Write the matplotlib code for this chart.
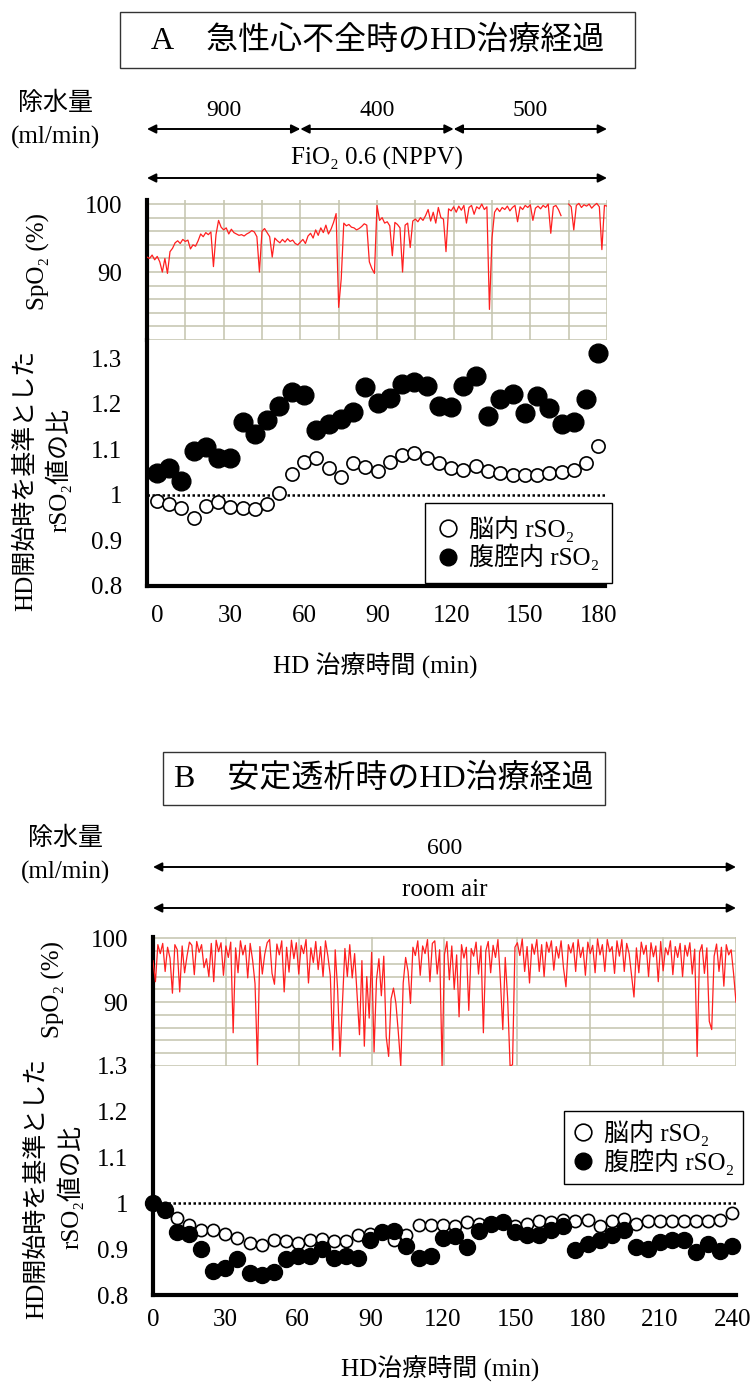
import matplotlib
matplotlib.use("Agg")
import matplotlib.pyplot as plt
import matplotlib.transforms as mtransforms
from matplotlib.lines import Line2D
from matplotlib.patches import Rectangle

plt.rcParams['font.family'] = ['Liberation Serif', 'Noto Sans CJK JP', 'DejaVu Serif']

W, H = 755, 1387

# ---- panel A : acute heart failure ----
t_a = list(range(0, 185, 5))
brain_a = [0.987, 0.981, 0.971, 0.949, 0.976, 0.984, 0.974, 0.971, 0.969, 0.980,
           1.004, 1.045, 1.073, 1.081, 1.058, 1.040, 1.070, 1.061, 1.052, 1.073,
           1.088, 1.091, 1.080, 1.070, 1.060, 1.055, 1.064, 1.052, 1.047, 1.043,
           1.043, 1.043, 1.049, 1.050, 1.054, 1.071, 1.107]
abd_a = [1.049, 1.058, 1.030, 1.097, 1.105, 1.080, 1.080, 1.161, 1.133, 1.165,
         1.195, 1.225, 1.220, 1.142, 1.156, 1.166, 1.182, 1.236, 1.201, 1.213,
         1.243, 1.247, 1.238, 1.195, 1.193, 1.240, 1.262, 1.174, 1.211, 1.221,
         1.180, 1.217, 1.191, 1.155, 1.160, 1.211, 1.312]
nan = float('nan')
spo2_a = [92.2, 92.0, 92.5, 91.8, 92.3, 91.5, 90.0, 92.0, 89.8, 93.0,
          93.5, 94.3, 94.6, 94.2, 94.8, 94.5, 94.7, 93.4, 94.0, 93.8,
          94.6, 95.6, 95.2, 95.8, 95.5, 95.9, 90.8, 95.5, 97.6, 96.6,
          96.2, 96.5, 95.6, 96.3, 95.8, 95.6, 95.4, 95.5, 95.3, 95.6,
          95.8, 96.1, 95.9, 95.2, 90.0, 96.0, 96.4, 95.8, 95.2, 92.2,
          95.0, 94.6, 94.3, 94.8, 94.4, 94.9, 94.5, 94.7, 94.2, 94.0,
          94.4, 94.8, 94.2, 95.3, 95.7, 95.0, 96.2, 95.4, 96.5, 95.8,
          96.9, 95.6, 96.3, 97.3, 98.6, 84.8, 89.0, 97.2, 96.8, 97.0,
          96.6, 96.5, 96.2, 96.4, 96.7, 97.1, 96.9, 91.5, 90.5, 89.8,
          99.8, 97.6, 98.0, 97.2, 97.4, 96.8, 92.4, 97.3, 97.0, 96.5,
          90.0, 96.9, 97.2, 93.6, 97.5, 97.8, 97.4, 98.0, 97.6, 98.3,
          99.2, 97.5, 98.8, 97.2, 99.5, 98.0, 97.8, 93.0, 99.3, 99.0,
          99.6, 98.8, 99.7, 99.1, 99.8, 97.2, 99.5, 99.8, 98.5, 99.6,
          99.3, 100.0, 99.2, 99.6, 84.5, 95.0, 98.8, 99.4, 98.9, 99.5,
          99.2, 99.7, 99.0, 99.5, 99.8, 97.4, 99.6, 99.2, 99.8, 99.5,
          99.9, 97.6, 99.4, 99.7, 99.3, 99.8, 99.5, 100.0, 95.7, 99.6,
          99.8, 99.2, 98.3, nan, nan, 100.0, 99.6, 96.2, 99.8, 100.1,
          99.5, 99.9, 99.7, 100.0, 99.4, 99.8, 100.1, 99.6, 93.3, 99.8,
          99.7]
min_a = list(range(len(spo2_a)))
rate_bounds_a = [0, 60, 120, 180]
rate_labels_a = ['900', '400', '500']

# ---- panel B : stable dialysis ----
t_b = list(range(0, 245, 5))
brain_b = [1.000, 0.990, 0.969, 0.952, 0.943, 0.942, 0.934, 0.924, 0.914, 0.910,
           0.919, 0.917, 0.914, 0.919, 0.923, 0.918, 0.918, 0.930, 0.934, 0.938,
           0.921, 0.930, 0.952, 0.952, 0.953, 0.950, 0.960, 0.955, 0.957, 0.959,
           0.951, 0.954, 0.961, 0.959, 0.964, 0.961, 0.964, 0.951, 0.961, 0.967,
           0.955, 0.962, 0.961, 0.961, 0.961, 0.961, 0.962, 0.964, 0.978]
abd_b = [1.000, 0.985, 0.937, 0.934, 0.900, 0.853, 0.860, 0.878, 0.849, 0.843,
         0.851, 0.878, 0.885, 0.885, 0.900, 0.881, 0.885, 0.880, 0.921, 0.937,
         0.939, 0.907, 0.880, 0.886, 0.925, 0.929, 0.904, 0.940, 0.955, 0.959,
         0.937, 0.931, 0.931, 0.943, 0.951, 0.899, 0.911, 0.921, 0.932, 0.943,
         0.904, 0.900, 0.916, 0.921, 0.921, 0.893, 0.911, 0.896, 0.906]
spo2_b = [96.5, 93.2, 99.0, 97.6, 99.2, 94.8, 98.6, 96.9, 91.4, 99.0,
          98.2, 91.6, 98.8, 94.6, 97.2, 99.4, 98.9, 94.3, 99.5, 97.8,
          99.0, 95.4, 96.8, 94.0, 99.2, 93.2, 99.7, 97.9, 99.3, 94.2,
          98.8, 97.0, 99.4, 85.2, 98.5, 94.6, 99.6, 97.4, 98.9, 93.8,
          99.2, 96.6, 92.9, 80.2, 98.7, 94.4, 97.5, 99.3, 99.8, 94.5,
          92.8, 99.1, 97.4, 99.6, 91.6, 98.6, 94.7, 99.7, 96.8, 99.3,
          94.4, 98.9, 97.6, 99.8, 93.0, 98.5, 96.2, 99.5, 95.1, 98.7,
          94.0, 99.6, 97.2, 94.1, 82.5, 98.2, 92.0, 81.5, 90.0, 98.4,
          94.0, 99.0, 93.8, 97.6, 91.2, 84.9, 96.5, 83.1, 94.0, 87.5,
          97.8, 82.2, 93.5, 96.8, 91.0, 97.2, 84.6, 81.5, 90.5, 92.2,
          89.8, 85.2, 80.0, 93.0, 97.0, 94.8, 89.8, 98.6, 97.3, 99.6,
          94.2, 98.8, 97.6, 99.8, 93.2, 99.2, 99.6, 94.4, 98.2, 80.0,
          97.5, 99.5, 93.5, 98.8, 92.0, 97.4, 87.7, 99.0, 96.9, 98.6,
          88.7, 98.4, 97.2, 99.4, 94.4, 98.8, 85.2, 98.0, 99.5, 94.6,
          98.9, 97.0, 99.8, 93.5, 85.7, 97.0, 90.5, 80.0, 80.2, 98.6,
          99.3, 97.3, 99.9, 94.8, 98.7, 93.0, 99.1, 97.5, 99.8, 94.8,
          99.0, 94.0, 99.4, 97.8, 99.6, 95.0, 98.7, 96.9, 99.6, 95.3,
          92.4, 99.0, 97.7, 99.3, 94.8, 99.8, 97.0, 98.6, 94.2, 99.4,
          97.6, 98.9, 94.6, 99.9, 97.4, 99.0, 94.8, 99.8, 97.9, 98.7,
          94.5, 99.6, 97.2, 99.8, 94.8, 99.2, 97.6, 94.2, 90.8, 98.5,
          94.6, 99.4, 97.5, 98.9, 94.0, 99.3, 97.1, 98.8, 93.2, 99.5,
          94.9, 98.5, 97.4, 99.6, 94.3, 98.7, 97.0, 99.2, 94.0, 98.9,
          97.2, 99.3, 94.4, 98.3, 81.5, 97.8, 99.0, 94.5, 98.5, 87.0,
          85.7, 97.2, 99.1, 94.8, 98.6, 92.5, 99.0, 97.4, 98.2, 94.5,
          90.0]
min_b = list(range(len(spo2_b)))
rate_bounds_b = [0, 240]
rate_labels_b = ['600']
sleep_span = [78, 107]

legend_labels = ['脳内 rSO₂', '腹腔内 rSO₂']
ratio_ticks = [0.8, 0.9, 1.0, 1.1, 1.2, 1.3]
ratio_ticklabels = ['0.8', '0.9', '1', '1.1', '1.2', '1.3']

fig = plt.figure(figsize=(W / 100, H / 100), dpi=100)


def rect(l, t, r, b):
    return [l / W, 1 - b / H, (r - l) / W, (b - t) / H]


ov = fig.add_axes([0, 0, 1, 1])
ov.set_xlim(0, W)
ov.set_ylim(H, 0)
ov.axis('off')
ov.patch.set_visible(False)


def spo2_panel(box, minutes, values, xmax, xstep, ylim):
    ax = fig.add_axes(rect(*box))
    ax.plot(minutes, values, color='#ff1f1f', lw=0.9, zorder=3)
    ax.set_xlim(0, xmax)
    ax.set_ylim(*ylim)
    ax.set_xticks(range(0, xmax + 1, xstep))
    ax.set_xticklabels([])
    ax.set_yticks([90, 100])
    ax.set_yticks(range(80, 101, 2), minor=True)
    ax.set_axisbelow(True)
    ax.grid(True, which='both', color='#c4c4ae', lw=1.1)
    ax.tick_params(which='both', length=0, labelsize=18, pad=18)
    for s in ['top', 'right', 'bottom']:
        ax.spines[s].set_visible(False)
    ax.spines['left'].set_linewidth(3)
    return ax


def ratio_panel(box, t, brain, abd, xlim, xticks, ylim, ms_w, ms_b, xpad, leg_xy, bpad):
    ax = fig.add_axes(rect(*box))
    ax.axhline(1.0, color='black', lw=1.8, ls=(0, (1, 1)), zorder=1)
    ax.plot(t, brain, 'o', mfc='white', mec='black', mew=1.2, ms=ms_w,
            ls='none', clip_on=False, zorder=3)
    ax.plot(t, abd, 'o', color='black', ms=ms_b, ls='none', clip_on=False, zorder=4)
    ax.set_xlim(*xlim)
    ax.set_ylim(*ylim)
    ax.set_xticks(xticks)
    ax.set_yticks(ratio_ticks)
    ax.set_yticklabels(ratio_ticklabels)
    ax.tick_params(length=0, labelsize=18)
    ax.tick_params(axis='y', pad=18)
    ax.tick_params(axis='x', pad=xpad)
    for s in ['top', 'right']:
        ax.spines[s].set_visible(False)
    ax.spines['left'].set_linewidth(3)
    ax.spines['bottom'].set_linewidth(3)
    handles = [Line2D([], [], marker='o', ls='none', mfc='white', mec='black', mew=1.2, ms=12),
               Line2D([], [], marker='o', ls='none', color='black', ms=12)]
    leg = ax.legend(handles, legend_labels, loc='upper left',
                    bbox_to_anchor=(leg_xy[0] / W, 1 - leg_xy[1] / H),
                    bbox_transform=fig.transFigure, borderaxespad=0,
                    fancybox=False, edgecolor='black', framealpha=1,
                    prop={'size': 18}, handlelength=0.8, handletextpad=0.45,
                    labelspacing=0.1, borderpad=bpad)
    leg.get_frame().set_linewidth(1.0)
    return ax


def darrow(trans, x0, x1, y):
    ov.annotate('', xy=(x1, y), xytext=(x0, y), xycoords=trans, textcoords=trans,
                arrowprops=dict(arrowstyle='<|-|>', color='black', lw=1.4,
                                mutation_scale=13, shrinkA=0, shrinkB=0))


# ================= panel A =================
ov.add_patch(Rectangle((120, 12), 515, 56, fill=False, ec='#333333', lw=1.0))
ov.text(378, 41, 'A\u3000急性心不全時のHD治療経過', fontsize=23, ha='center', va='center')
ov.text(55, 103, '除水量', fontsize=18, ha='center', va='center')
ov.text(55, 137, '(ml/min)', fontsize=18, ha='center', va='center')

sa = spo2_panel((147, 200, 607, 340), min_a, spo2_a, 180, 15, (80, 100.6))
ra = ratio_panel((147, 340, 605, 586), t_a, brain_a, abd_a, (-4, 182.7),
                 range(0, 181, 30), (0.8, 1.34), 9.5, 13.5, 14, (425, 503), 0.5)

trans_a = mtransforms.blended_transform_factory(sa.transData, ov.transData)
for i, lab in enumerate(rate_labels_a):
    x0, x1 = rate_bounds_a[i], rate_bounds_a[i + 1]
    darrow(trans_a, x0, x1, 129)
    ov.text((x0 + x1) / 2, 110, lab, transform=trans_a, fontsize=17, ha='center', va='center')
ov.text(90, 158, 'FiO₂ 0.6 (NPPV)', transform=trans_a, fontsize=18, ha='center', va='center')
darrow(trans_a, rate_bounds_a[0], rate_bounds_a[-1], 178)

ov.text(38, 262, 'SpO₂ (%)', fontsize=18, rotation=90, ha='center', va='center')
ov.text(26, 480, 'HD開始時を基準とした', fontsize=18, rotation=90, ha='center', va='center')
ov.text(58, 470, 'rSO₂値の比', fontsize=18, rotation=90, ha='center', va='center')
ov.text(375, 665, 'HD 治療時間 (min)', fontsize=18, ha='center', va='center')

# ================= panel B =================
ov.add_patch(Rectangle((163, 752), 442, 53, fill=False, ec='#333333', lw=1.0))
ov.text(384, 779, 'B\u3000安定透析時のHD治療経過', fontsize=23, ha='center', va='center')
ov.text(65, 838, '除水量', fontsize=18, ha='center', va='center')
ov.text(65, 872, '(ml/min)', fontsize=18, ha='center', va='center')

sb = spo2_panel((153, 937, 736, 1066), min_b, spo2_b, 240, 30, (80, 100.2))
rb = ratio_panel((153, 1066, 736, 1295), t_b, brain_b, abd_b, (0, 241.5),
                 range(0, 241, 30), (0.8, 1.3), 8.8, 11.5, 10, (564, 1111), 0.35)

trans_b = mtransforms.blended_transform_factory(sb.transData, ov.transData)
darrow(trans_b, rate_bounds_b[0], rate_bounds_b[1], 867)
ov.text(120, 848, rate_labels_b[0], transform=trans_b, fontsize=17, ha='center', va='center')
ov.text(120, 890, 'room air', transform=trans_b, fontsize=18, ha='center', va='center')
darrow(trans_b, rate_bounds_b[0], rate_bounds_b[1], 908)

trans_r = mtransforms.blended_transform_factory(rb.transData, ov.transData)
ov.text(sum(sleep_span) / 2, 1087, 'sleeping', transform=trans_r, fontsize=18,
        ha='center', va='center')
darrow(trans_r, sleep_span[0], sleep_span[1], 1104)

ov.text(53, 989, 'SpO₂ (%)', fontsize=18, rotation=90, ha='center', va='center')
ov.text(37, 1188, 'HD開始時を基準とした', fontsize=18, rotation=90, ha='center', va='center')
ov.text(70, 1187, 'rSO₂値の比', fontsize=18, rotation=90, ha='center', va='center')
ov.text(440, 1368, 'HD治療時間 (min)', fontsize=18, ha='center', va='center')

fig.savefig('out.png', dpi=100)
